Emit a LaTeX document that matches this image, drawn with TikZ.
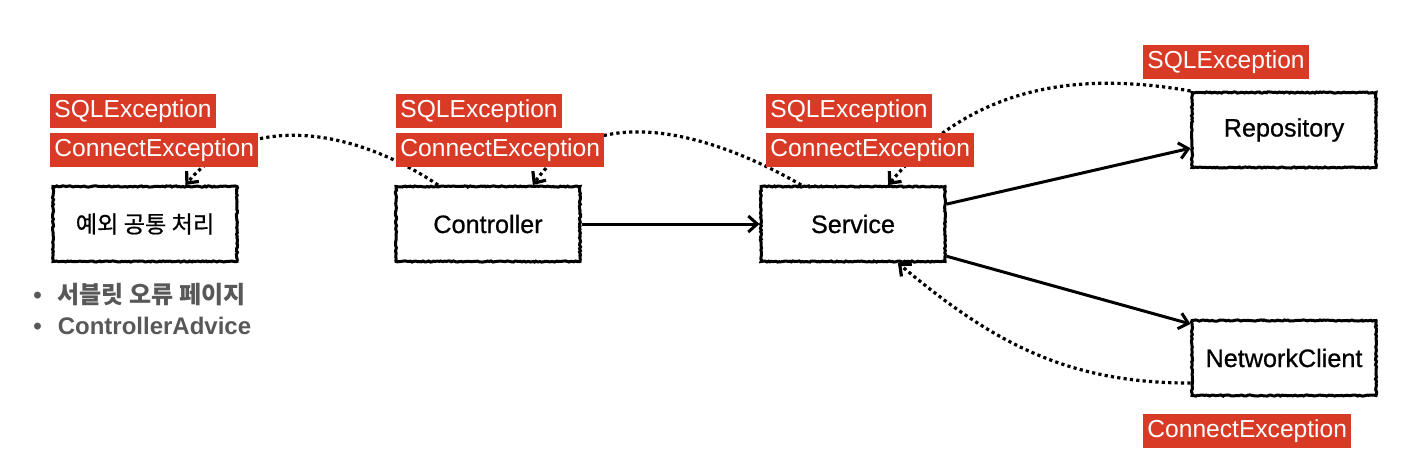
\documentclass[tikz,border=0pt]{standalone}
\usepackage{fontspec}
\setmainfont{Liberation Sans}
\newfontfamily\medfont[FakeBold=0.7]{Liberation Sans}
\newfontfamily\kofont{Noto Sans CJK KR}
\newfontfamily\komedfont[FakeBold=0.7]{Noto Sans CJK KR}
\usepackage{tikz}
\usetikzlibrary{arrows.meta,positioning,decorations.pathmorphing}
\definecolor{exred}{RGB}{216,58,38}
\definecolor{notegray}{RGB}{88,88,88}

\begin{document}
\begin{tikzpicture}[x=0.5pt,y=0.5pt,
  box/.style={draw=black, line width=1.5pt, fill=white, minimum width=92pt, minimum height=37.5pt, inner sep=0pt,
    font=\medfont\fontsize{12.6}{15}\selectfont, decorate, decoration={random steps,segment length=0.9pt,amplitude=0.3pt}},
  exlabel/.style={fill=exred, text=white, anchor=west, inner xsep=2pt, inner ysep=0pt, text height=9.6pt, text depth=2.9pt,
    minimum height=17.4pt, font=\fontsize{12.3}{14}\selectfont},
  flow/.style={line width=1.5pt, -{Straight Barb[length=4.5pt,width=8pt]}},
  back/.style={line width=1.6pt, dash pattern=on 1.6pt off 1.6pt, -{Straight Barb[length=4.5pt,width=8pt]}}]
  \useasboundingbox (0,0) rectangle (1424,-466);

  % Boxes
  \node (cmn) at (145,-224) [box, font=\komedfont\fontsize{11.6}{13}\selectfont] {예외 공통 처리};
  \node (ctrl) at (488,-224) [box] {Controller};
  \node (svc) at (853,-224) [box] {Service};
  \node (repo) at (1284,-130) [box] {Repository};
  \node (net) at (1284,-358) [box] {NetworkClient};

  % Notes under the common handler
  \node (notes) at (33,-309) [anchor=west, align=left, inner sep=0pt, text=notegray, font=\bfseries\fontsize{12}{15.5}\selectfont]
    {\textbullet\hspace{8pt}{\kofont 서블릿 오류 페이지}\\ \textbullet\hspace{8pt}ControllerAdvice};

  % Calls
  \draw[flow] (ctrl.east) -- (svc.west);
  \draw[flow] (svc.12) -- (repo.191);
  \draw[flow] (svc.-19) -- (net.160);

  % Exceptions thrown back
  \draw[back] (ctrl.142) to[out=146,in=50] (cmn.44);
  \draw[back] (svc.143) to[out=150,in=55] (ctrl.41);
  \draw[back] (repo.north west) to[out=170,in=50] (svc.48);
  \draw[back] (net.195) to[out=180,in=-40] (svc.-41);

  % Exception labels
  \node (cmnSql) at (50,-111) [exlabel] {SQLException};
  \node (cmnConn) at (50,-150) [exlabel] {ConnectException};
  \node (ctrlSql) at (396,-111) [exlabel] {SQLException};
  \node (ctrlConn) at (396,-150) [exlabel] {ConnectException};
  \node (svcSql) at (766,-111) [exlabel] {SQLException};
  \node (svcConn) at (766,-150) [exlabel] {ConnectException};
  \node (repoSql) at (1143,-62) [exlabel] {SQLException};
  \node (netConn) at (1143,-431) [exlabel] {ConnectException};

\end{tikzpicture}
\end{document}
